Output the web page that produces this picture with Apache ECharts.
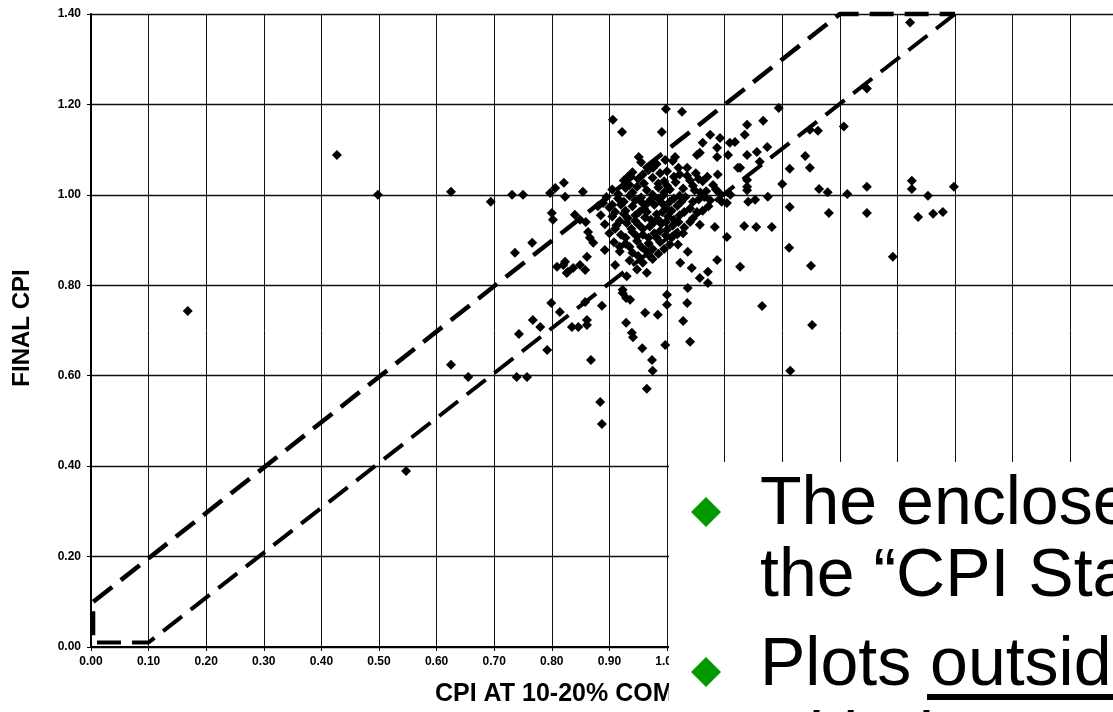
<!DOCTYPE html>
<html>
<head>
<meta charset="utf-8">
<script src="https://cdn.jsdelivr.net/npm/echarts@6/dist/echarts.min.js"></script>
<style>
html,body{margin:0;padding:0;background:#fff;}
#chart{width:1113px;height:712px;}
</style>
</head>
<body>
<div id="chart"></div>
<script>
// ---- Data ----
var xTicksFormat = 2;          // tick labels shown with two decimals
var xAxisTitle = 'CPI AT 10-20% COMPLETE';
var yAxisTitle = 'FINAL CPI';

// CPI stability box boundaries
var upperBound = [[0.004, 0.10], [1.30, 1.40], [1.50, 1.40]];
var lowerBound = [[1.50, 1.40], [0.10, 0.01], [0.004, 0.01], [0.004, 0.10]];

// scattered points away from the centre
var outerPoints = [
  [0.168,0.743],[0.427,1.088],[0.498,1.000],[0.547,0.389],[0.625,1.007],[0.625,0.624],
  [0.655,0.597],[0.694,0.985],[0.731,1.000],[0.750,1.000],[0.739,0.597],[0.757,0.597],
  [0.743,0.692],[0.767,0.723],[0.780,0.708],[0.792,0.657],[0.736,0.872],[0.766,0.894],
  [0.884,0.542],[0.887,0.493],[0.965,0.571],[0.974,0.635],[0.975,0.611],[0.868,0.635]
];
// points to the right of the cluster
var rightPoints = [
  [1.422,1.381],[1.347,1.235],[1.307,1.151],[1.262,1.142],[1.248,1.144],[1.240,1.086],
  [1.248,1.060],[1.213,1.058],[1.200,1.024],[1.264,1.013],[1.279,1.006],[1.313,1.002],
  [1.347,1.018],[1.425,1.031],[1.425,1.013],[1.453,0.998],[1.498,1.018],[1.213,0.973],
  [1.281,0.960],[1.347,0.960],[1.436,0.951],[1.462,0.958],[1.479,0.962],[1.212,0.883],
  [1.250,0.843],[1.392,0.863],[1.252,0.712],[1.214,0.611],[1.165,0.754],[1.127,0.841],
  [1.194,1.192],[1.167,1.164],[1.139,1.155],[1.135,1.133],[1.153,0.989],[1.175,0.996],
  [1.134,0.931],[1.155,0.929],[1.182,0.929],[1.104,0.907],[1.161,1.073],[1.174,1.106],
  [1.156,1.095],[1.139,1.088],[1.123,1.060],[1.139,1.033],[1.139,1.010],[1.141,0.985]
];
// points above the cluster
var upperPoints = [
  [0.906,1.166],[0.922,1.139],[0.998,1.190],[1.026,1.184],[0.991,1.139],[1.075,1.133],
  [1.062,1.115],[1.092,1.126],[1.109,1.115],[1.118,1.117],[1.057,1.093],[1.087,1.104],
  [1.087,1.084],[1.106,1.088],[0.951,1.084],[0.932,1.040],[1.014,1.084],[1.052,1.088],
  [0.976,1.060],[0.997,1.077],[1.127,1.060],[1.139,1.018]
];
// points in the left band
var leftPoints = [
  [0.797,1.004],[0.806,1.015],[0.821,1.027],[0.823,0.996],[0.854,1.007],[0.800,0.960],
  [0.802,0.945],[0.840,0.956],[0.849,0.945],[0.859,0.940],[0.863,0.918],[0.866,0.905],
  [0.872,0.894],[0.809,0.841],[0.823,0.852],[0.826,0.827],[0.837,0.838],[0.849,0.845],
  [0.861,0.863],[0.858,0.834],[0.892,0.878],[0.910,0.845],[0.918,0.885],[0.889,0.982],
  [0.905,0.978],[0.930,0.820],[0.923,0.790],[0.820,0.845],[0.828,0.830]
];
// points below the cluster
var lowerPoints = [
  [0.799,0.761],[0.814,0.741],[0.858,0.763],[0.861,0.723],[0.835,0.708],[0.846,0.708],
  [0.861,0.712],[0.887,0.755],[0.929,0.717],[0.939,0.695],[0.941,0.685],[0.957,0.661],
  [0.923,0.783],[0.929,0.772],[0.997,0.668],[1.040,0.675],[1.028,0.721],[1.035,0.761],
  [1.000,0.779],[1.000,0.757],[0.984,0.735],[0.962,0.739],[0.936,0.768],[1.036,0.794],
  [1.057,0.816],[1.071,0.805],[1.071,0.830],[1.087,0.856],[1.043,0.838],[1.023,0.850],
  [1.036,0.874],[1.019,0.890],[1.057,0.934],[1.083,0.929],[1.104,0.982]
];
// dense central cluster
var clusterPoints = [
  [0.955,1.072],[0.982,1.068],[1.010,1.075],[1.035,1.060],[0.968,1.055],[0.940,1.050],
  [1.000,1.052],[1.022,1.045],[1.050,1.048],[0.925,1.032],[0.950,1.035],[0.975,1.038],
  [0.995,1.030],[1.015,1.028],[1.040,1.032],[1.062,1.030],[1.080,1.022],[0.905,1.012],
  [0.928,1.015],[0.948,1.018],[0.965,1.010],[0.985,1.016],[1.005,1.012],[1.028,1.014],
  [1.048,1.010],[1.068,1.008],[1.090,1.005],[1.110,1.000],[0.895,0.995],[0.915,0.992],
  [0.935,0.998],[0.955,0.994],[0.972,0.990],[0.992,0.997],[1.012,0.992],[1.032,0.995],
  [1.055,0.990],[1.075,0.988],[1.095,0.985],[0.880,0.975],[0.900,0.972],[0.920,0.978],
  [0.940,0.975],[0.960,0.970],[0.978,0.978],[0.998,0.972],[1.018,0.976],[1.040,0.970],
  [1.062,0.965],[0.885,0.955],[0.905,0.952],[0.925,0.958],[0.945,0.955],[0.962,0.950],
  [0.982,0.957],[1.002,0.952],[1.022,0.955],[1.045,0.948],[0.892,0.935],[0.912,0.932],
  [0.930,0.938],[0.950,0.935],[0.970,0.930],[0.990,0.936],[1.010,0.932],[1.030,0.928],
  [0.900,0.915],[0.920,0.912],[0.940,0.918],[0.958,0.912],[0.978,0.915],[0.998,0.910],
  [1.018,0.913],[0.908,0.895],[0.928,0.892],[0.948,0.898],[0.968,0.893],[0.988,0.896],
  [1.005,0.890],[0.918,0.875],[0.940,0.872],[0.962,0.878],[0.985,0.870],[0.935,0.855],
  [0.958,0.850],[0.975,0.858],[0.948,0.835],[0.965,0.828],[0.955,0.985],[0.975,1.000],
  [0.965,0.962],[0.945,0.942],[0.985,0.945],[1.008,0.965],[0.928,0.965],[0.990,0.983],
  [1.025,0.985],[0.995,1.005],[0.960,1.025],[1.045,1.020],[1.070,1.040],[1.088,1.045],
  [1.000,0.923],[0.982,0.905]
];
// extra points packed in the solid core of the cluster
var corePoints = [
  [0.915,1.002],[0.935,1.022],[0.958,1.045],[0.988,1.048],[1.012,1.040],[1.035,1.042],
  [1.055,1.035],[0.925,0.985],[0.945,0.988],[0.965,0.980],[0.985,0.992],[1.005,0.985],
  [1.022,0.998],[1.045,0.985],[1.065,0.995],[1.085,1.012],[0.910,0.962],[0.932,0.948],
  [0.952,0.962],[0.972,0.945],[0.992,0.962],[1.012,0.945],[1.030,0.962],[1.052,0.962],
  [1.072,0.975],[0.918,0.942],[0.938,0.925],[0.958,0.925],[0.978,0.940],[0.998,0.940],
  [1.020,0.940],[1.040,0.940],[0.910,0.925],[0.928,0.905],[0.948,0.908],[0.968,0.905],
  [0.988,0.920],[1.008,0.905],[1.028,0.915],[0.935,0.885],[0.955,0.885],[0.975,0.880],
  [0.995,0.880],[0.950,0.865],[0.970,0.865],[1.000,1.020],[1.020,1.060],[0.985,1.025],
  [0.940,1.005],[1.058,1.005]
];

// slide text over the lower right
var bulletLines = [
  'The enclosed area represents',
  'the \u201CCPI Stability Box\u201D',
  'Plots outside the box',
  'with the CPI changed'
];

// ---- Chart ----
var chart = echarts.init(document.getElementById('chart'), null, {renderer: 'canvas'});
var tickFont = {fontFamily: 'Liberation Sans, Arial, sans-serif', fontWeight: 'bold', fontSize: 12, color: '#000'};
var allPoints = outerPoints.concat(rightPoints, upperPoints, leftPoints, lowerPoints, clusterPoints, corePoints);
var boxFont = 'Liberation Sans, Arial, sans-serif';

chart.setOption({
  animation: false,
  backgroundColor: '#fff',
  grid: {left: 91, top: 14, width: 1152, height: 633, containLabel: false, outerBoundsMode: 'none'},
  xAxis: {
    type: 'value', min: 0, max: 2.0, interval: 0.1,
    axisLine: {show: true, lineStyle: {color: '#000', width: 2}},
    axisTick: {show: true, length: 4, lineStyle: {color: '#000', width: 1}},
    axisLabel: Object.assign({margin: 9, formatter: function (v) { return v.toFixed(xTicksFormat); }}, tickFont),
    splitLine: {show: true, lineStyle: {color: '#111', width: 1}}
  },
  yAxis: {
    type: 'value', min: 0, max: 1.4, interval: 0.2,
    axisLine: {show: true, lineStyle: {color: '#000', width: 2}},
    axisTick: {show: true, length: 4, lineStyle: {color: '#000', width: 1}},
    axisLabel: Object.assign({margin: 10, formatter: function (v) { return v.toFixed(xTicksFormat); }}, tickFont),
    splitLine: {show: true, lineStyle: {color: '#111', width: 1.3}}
  },
  series: [
    {
      type: 'line', data: upperBound, symbol: 'none', clip: false, z: 3,
      lineStyle: {color: '#000', width: 4.5, type: [24, 11]}
    },
    {
      type: 'line', data: lowerBound, symbol: 'none', clip: false, z: 3,
      lineStyle: {color: '#000', width: 4, type: [24, 11]}
    },
    {
      type: 'scatter', data: allPoints, symbol: 'diamond', symbolSize: 10, z: 4,
      itemStyle: {color: '#000', opacity: 1}
    }
  ],
  graphic: [
    {type: 'text', z: 50, x: 22, y: 328, rotation: Math.PI / 2,
      style: {text: yAxisTitle, fontFamily: boxFont, fontWeight: 'bold', fontSize: 24, fill: '#000', align: 'center', verticalAlign: 'middle'}},
    {type: 'text', z: 50, x: 435, y: 694,
      style: {text: xAxisTitle, fontFamily: boxFont, fontWeight: 'bold', fontSize: 25, fill: '#000', align: 'left', verticalAlign: 'middle'}},
    {type: 'rect', z: 100, shape: {x: 669, y: 462, width: 460, height: 260}, style: {fill: '#fff'}},
    {type: 'polygon', z: 101, shape: {points: [[706,497],[721,512],[706,527],[691,512]]}, style: {fill: '#009900'}},
    {type: 'polygon', z: 101, shape: {points: [[706,657],[721,672],[706,687],[691,672]]}, style: {fill: '#009900'}},
    {type: 'text', z: 101, x: 760, y: 505, style: {text: bulletLines[0], fontFamily: boxFont, fontSize: 68, fill: '#000', align: 'left', verticalAlign: 'middle'}},
    {type: 'text', z: 101, x: 760, y: 577, style: {text: bulletLines[1], fontFamily: boxFont, fontSize: 68, fill: '#000', align: 'left', verticalAlign: 'middle'}},
    {type: 'text', z: 101, x: 760, y: 666, style: {text: bulletLines[2], fontFamily: boxFont, fontSize: 68, fill: '#000', align: 'left', verticalAlign: 'middle'}},
    {type: 'rect', z: 101, shape: {x: 927, y: 694, width: 200, height: 6}, style: {fill: '#000'}},
    {type: 'text', z: 101, x: 760, y: 741, style: {text: bulletLines[3], fontFamily: boxFont, fontSize: 68, fill: '#000', align: 'left', verticalAlign: 'middle'}}
  ]
});
</script>
</body>
</html>
